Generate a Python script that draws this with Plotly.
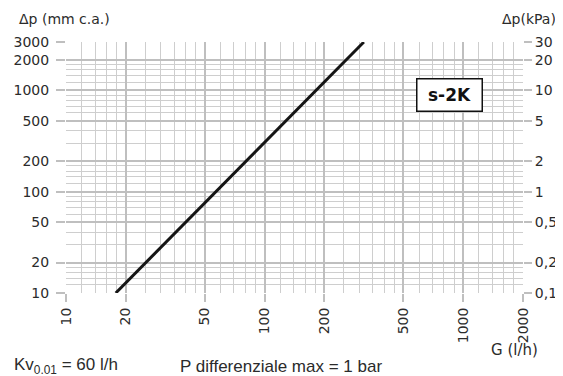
import math
import plotly.graph_objects as go

# ---- data ----
flow_lh = [17.8, 316]          # G (l/h)
dp_mm = [10, 3000]             # Δp (mm c.a.)

x_tick_vals = [10, 20, 50, 100, 200, 500, 1000, 2000]
x_tick_text = ["10", "20", "50", "100", "200", "500", "1000", "2000"]
y_tick_vals = [10, 20, 50, 100, 200, 500, 1000, 2000, 3000]
y_tick_text = ["10", "20", "50", "100", "200", "500", "1000", "2000", "3000"]
y_tick_text_kpa = ["0,1", "0,2", "0,5", "1", "2", "5", "10", "20", "30"]

x_minor_vals = [12, 14, 16, 18, 25, 30, 35, 40, 45, 60, 70, 80, 90,
                120, 140, 160, 180, 250, 300, 350, 400, 450, 600, 700, 800, 900,
                1200, 1400, 1600, 1800]
y_minor_vals = [12, 14, 16, 18, 30, 40, 60, 70, 80, 90,
                120, 140, 160, 180, 300, 400, 600, 700, 800, 900,
                1200, 1400, 1600, 1800]

# ---- style ----
OFF = 8                      # page body margin
W, H = 563 - OFF, 376 - OFF
L, R, T, B = 66 - OFF, 40, 42 - OFF, 83
PW, PH = W - L - R, H - T - B
grid_major = "#bfbfbf"
grid_minor = "#cecece"
txt = "#2b2b2b"
tick_font = dict(family="DejaVu Sans", size=14, color=txt)

xr = [math.log10(10), math.log10(2000)]
yr = [math.log10(10), math.log10(3000) + 0.0005]


def px(xp):
    return (xp - OFF - L) / PW


def py(yp):
    return (H - B - (yp - OFF)) / PH


fig = go.Figure()
fig.add_trace(go.Scatter(x=flow_lh, y=dp_mm, mode="lines",
                         line=dict(color="#151515", width=3),
                         showlegend=False, hoverinfo="skip"))
fig.add_trace(go.Scatter(x=flow_lh, y=dp_mm, mode="lines", yaxis="y2",
                         line=dict(color="rgba(0,0,0,0)", width=0),
                         showlegend=False, hoverinfo="skip"))

fig.update_layout(
    width=W, height=H,
    margin=dict(l=L, r=R, t=T, b=B, autoexpand=False),
    paper_bgcolor="white", plot_bgcolor="white",
    xaxis=dict(type="log", range=xr, tickmode="array",
               tickvals=x_tick_vals, ticktext=x_tick_text, tickangle=-90,
               ticks="outside", ticklen=8, tickwidth=1.5, tickcolor=grid_major,
               showgrid=True, gridcolor=grid_major, gridwidth=1.5,
               showline=False, zeroline=False, tickfont=tick_font,
               minor=dict(tickmode="array", tickvals=x_minor_vals, showgrid=True,
                          gridcolor=grid_minor, gridwidth=1.2, ticks="")),
    yaxis=dict(type="log", range=yr, tickmode="array",
               tickvals=y_tick_vals, ticktext=y_tick_text,
               ticks="outside", ticklen=9, tickwidth=1.5, tickcolor=grid_major,
               ticklabelstandoff=4,
               showgrid=True, gridcolor=grid_major, gridwidth=1.5,
               showline=False, zeroline=False, tickfont=tick_font,
               minor=dict(tickmode="array", tickvals=y_minor_vals, showgrid=True,
                          gridcolor=grid_minor, gridwidth=1.2, ticks="")),
    yaxis2=dict(type="log", range=yr, overlaying="y", side="right",
                tickmode="array", tickvals=y_tick_vals, ticktext=y_tick_text_kpa,
                ticks="outside", ticklen=8, tickwidth=1.5, tickcolor=grid_major,
                showgrid=False, showline=False, zeroline=False, tickfont=tick_font),
)

ann_font = dict(family="DejaVu Sans", size=14, color=txt)
fig.add_annotation(text="Δp (mm c.a.)", xref="paper", yref="paper",
                   x=px(17), y=py(19), xanchor="left", yanchor="middle",
                   showarrow=False, font=ann_font)
fig.add_annotation(text="Δp(kPa)", xref="paper", yref="paper",
                   x=px(558), y=py(19), xanchor="right", yanchor="middle",
                   showarrow=False, font=ann_font)
fig.add_annotation(text="G (l/h)", xref="paper", yref="paper",
                   x=px(540), y=py(350), xanchor="right", yanchor="middle",
                   showarrow=False, font=dict(family="DejaVu Sans", size=15, color=txt))
bot_font = dict(family="Liberation Sans", size=17, color=txt)
fig.add_annotation(text="Kv<sub>0.01</sub> = 60 l/h", xref="paper", yref="paper",
                   x=px(12), y=py(366), xanchor="left", yanchor="middle",
                   showarrow=False, font=bot_font)
fig.add_annotation(text="P differenziale max = 1 bar", xref="paper", yref="paper",
                   x=px(178), y=py(366), xanchor="left", yanchor="middle",
                   showarrow=False, font=bot_font)
fig.add_annotation(text="<b>s-2K</b>", xref="paper", yref="paper",
                   x=px(449.5), y=py(95), xanchor="center", yanchor="middle",
                   showarrow=False,
                   font=dict(family="DejaVu Sans", size=17, color="#111111"),
                   bgcolor="white", bordercolor="#111111", borderwidth=1.5,
                   width=62, height=29, borderpad=1)

fig.write_html("out.html")
